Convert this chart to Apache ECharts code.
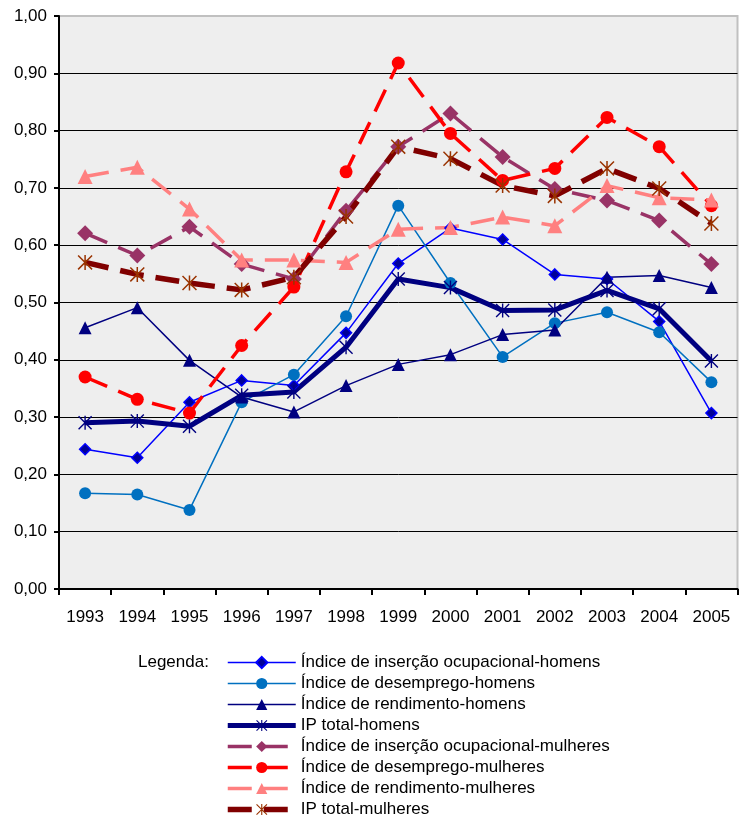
<!DOCTYPE html>
<html><head><meta charset="utf-8">
<script src="https://cdn.jsdelivr.net/npm/echarts@6/dist/echarts.min.js"></script>
<style>html,body{margin:0;padding:0;background:#fff}#c{width:739px;height:821px}</style>
</head><body><div id="c"></div>
<script>
var years = ['1993','1994','1995','1996','1997','1998','1999','2000','2001','2002','2003','2004','2005'];
var insercaoHomens    = [0.244,0.229,0.326,0.364,0.355,0.447,0.568,0.630,0.610,0.549,0.541,0.467,0.307];
var desempregoHomens  = [0.167,0.165,0.138,0.326,0.374,0.476,0.669,0.534,0.405,0.464,0.483,0.448,0.361];
var rendimentoHomens  = [0.456,0.491,0.399,0.335,0.309,0.355,0.392,0.409,0.444,0.452,0.544,0.547,0.526];
var ipTotalHomens     = [0.290,0.293,0.284,0.338,0.344,0.422,0.541,0.526,0.486,0.487,0.521,0.489,0.398];
var insercaoMulheres  = [0.621,0.582,0.632,0.567,0.541,0.660,0.772,0.830,0.754,0.698,0.678,0.643,0.567];
var desempregoMulheres= [0.370,0.331,0.307,0.425,0.527,0.728,0.918,0.795,0.713,0.734,0.823,0.772,0.669];
var rendimentoMulheres= [0.720,0.736,0.663,0.574,0.574,0.570,0.628,0.631,0.649,0.634,0.704,0.683,0.679];
var ipTotalMulheres   = [0.570,0.549,0.534,0.522,0.544,0.650,0.772,0.751,0.704,0.686,0.734,0.699,0.638];
var seriesNames = ['Índice de inserção ocupacional-homens','Índice de desemprego-homens','Índice de rendimento-homens','IP total-homens','Índice de inserção ocupacional-mulheres','Índice de desemprego-mulheres','Índice de rendimento-mulheres','IP total-mulheres'];
var legendTitle = 'Legenda:';

var star = 'path://M9 0L11 0L11 20L9 20Z M0 1.4L1.4 0L20 18.6L18.6 20Z M18.6 0L20 1.4L1.4 20L0 18.6Z';
var FONT = 'Liberation Sans, Arial, sans-serif';
var dash = [24, 12];

function mk(name, data, color, width, type, symbol, size, fill, border) {
  return {
    name: name, type: 'line', data: data, symbol: symbol, symbolSize: size,
    showAllSymbol: true, z: 3,
    lineStyle: { color: color, width: width, type: type },
    itemStyle: { color: fill || color, borderColor: border || (fill || color), borderWidth: border ? 1.5 : 0, opacity: 1 },
    emphasis: { disabled: true }, animation: false
  };
}

var chart = echarts.init(document.getElementById('c'));
chart.setOption({
  animation: false,
  textStyle: { fontFamily: FONT },
  grid: { left: 59, right: 1.5, top: 16, bottom: 232, show: true, backgroundColor: '#EEEEEE', borderColor: '#C0C0C0', borderWidth: 2 },
  xAxis: {
    type: 'category', data: years, boundaryGap: true,
    axisLine: { lineStyle: { color: '#000', width: 2 } },
    axisTick: { show: true, interval: 0, length: 6, lineStyle: { color: '#000', width: 2 } },
    axisLabel: { color: '#000', fontSize: 17, fontFamily: FONT, margin: 20, interval: 0 },
    splitLine: { show: false }
  },
  yAxis: {
    type: 'value', min: 0, max: 1, interval: 0.1,
    axisLine: { show: true, lineStyle: { color: '#000', width: 2 } },
    axisTick: { show: true, length: 5, lineStyle: { color: '#000', width: 2 } },
    axisLabel: { color: '#000', fontSize: 17, fontFamily: FONT, margin: 12, formatter: function (v) { return v.toFixed(2).replace('.', ','); } },
    splitLine: { show: true, lineStyle: { color: ['#000','#000','#000','#000','#000','#000','#000','#000','#000','#000','#C0C0C0'], width: 1 } }
  },
  legend: {
    orient: 'vertical', left: 225, top: 654, itemWidth: 68, itemHeight: 14, itemGap: 4,
    padding: 0,
    lineStyle: { width: 'inherit' },
    textStyle: { color: '#000', fontSize: 17, fontFamily: FONT },
    data: seriesNames
  },
  graphic: [{ type: 'text', left: 138, top: 654, style: { text: legendTitle, fill: '#000', font: '17px ' + FONT } }],
  series: [
    mk(seriesNames[0], insercaoHomens, '#0000FF', 1.5, 'solid', 'diamond', 11, '#000099', '#0000FF'),
    mk(seriesNames[1], desempregoHomens, '#0070C0', 1.5, 'solid', 'circle', 12),
    mk(seriesNames[2], rendimentoHomens, '#000080', 1.5, 'solid', 'triangle', 13),
    mk(seriesNames[3], ipTotalHomens, '#000080', 5, 'solid', star, 14),
    mk(seriesNames[4], insercaoMulheres, '#993366', 3.5, dash, 'diamond', 16),
    mk(seriesNames[5], desempregoMulheres, '#FF0000', 3.5, dash, 'circle', 13),
    mk(seriesNames[6], rendimentoMulheres, '#FF8080', 3.5, dash, 'triangle', 15),
    mk(seriesNames[7], ipTotalMulheres, '#800000', 5.5, dash, star, 15, '#993300')
  ]
});
</script></body></html>
